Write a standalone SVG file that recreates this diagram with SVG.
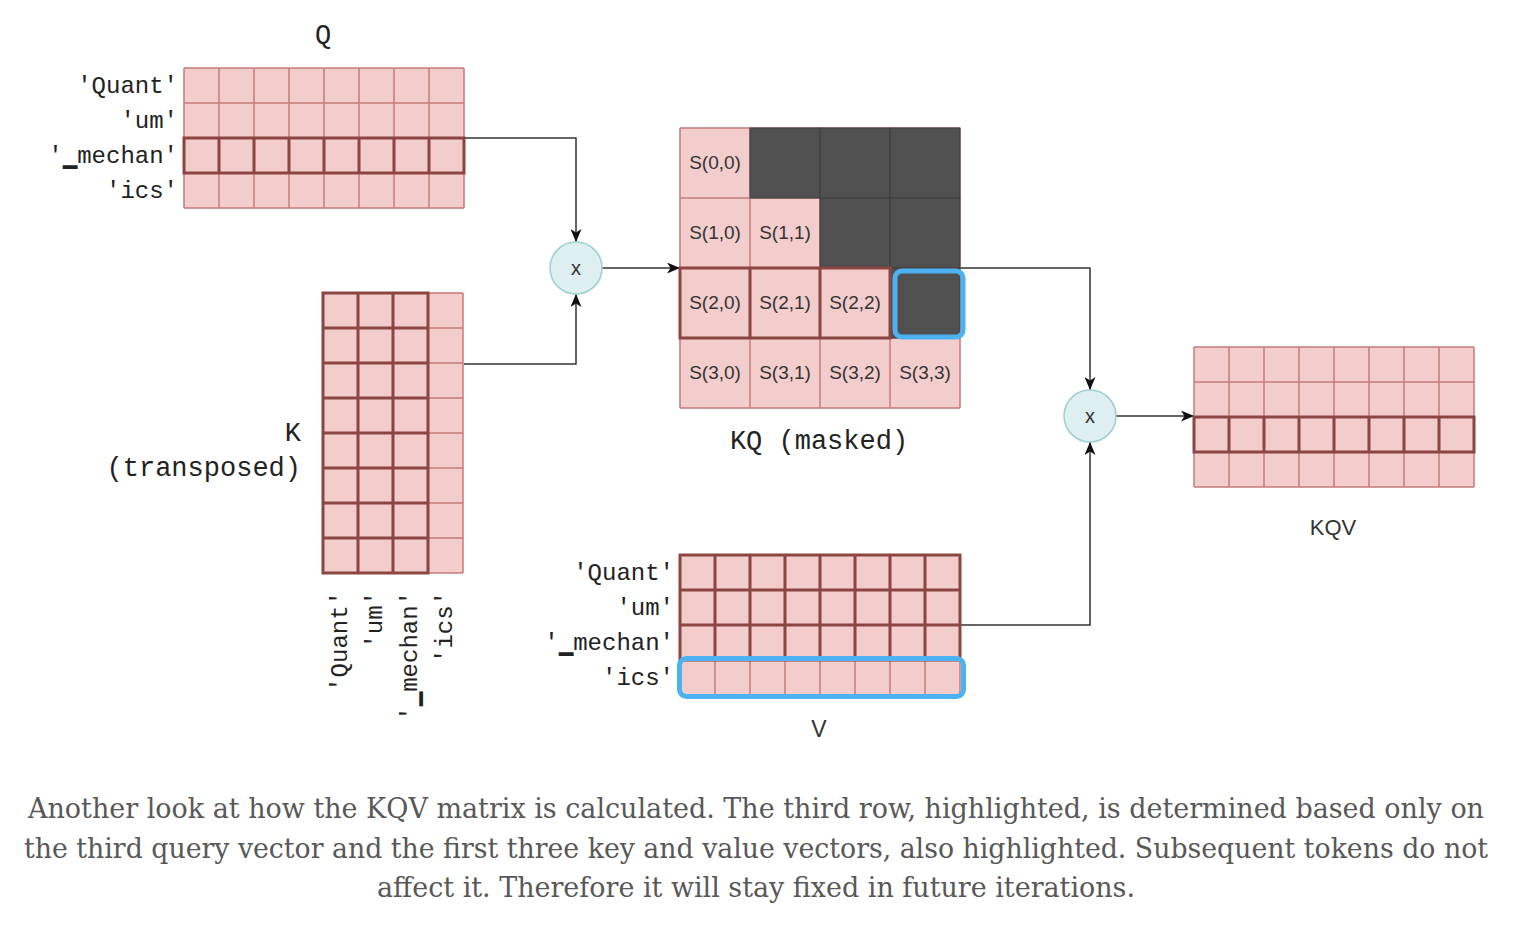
<svg xmlns="http://www.w3.org/2000/svg" xmlns:xlink="http://www.w3.org/1999/xlink" width="1538" height="932" viewBox="0 0 1538 932">
<style>
.bg{fill:#f2cdcc}
.gr{fill:none;stroke:#c47c79;stroke-width:1.5}
.hl{fill:none;stroke:#8b4543;stroke-width:3}
.dk{fill:#505050;stroke:#3e3e3e;stroke-width:1}
.blue{fill:none;stroke:#4db2f4;stroke-width:5}
.mono{font-family:"Liberation Mono","DejaVu Sans Mono",monospace;fill:#222}
.lbl{font-size:24px;text-anchor:end}
.ttl{font-size:27px}
.sans{font-family:"Liberation Sans",Arial,sans-serif;fill:#333}
.cell{font-size:19px;text-anchor:middle}
.conn{fill:none;stroke:#333;stroke-width:1.5}
.circ{fill:#ddeff0;stroke:#9ccfcf;stroke-width:1.5}
.cap{font-family:"DejaVu Serif Condensed","DejaVu Serif","Liberation Serif",serif;font-size:28px;fill:#585858}
.mid{text-anchor:middle}
.end{text-anchor:end}
</style>
<defs>
<marker id="arr" viewBox="0 0 13 11" refX="13" refY="5.5" markerWidth="13" markerHeight="11" markerUnits="userSpaceOnUse" orient="auto">
<path d="M0 0L13 5.5L0 11L3.5 5.5Z" fill="#111"/>
</marker>
<path id="g8x4" d="M0 0V140M35 0V140M70 0V140M105 0V140M140 0V140M175 0V140M210 0V140M245 0V140M280 0V140M0 0H280M0 35H280M0 70H280M0 105H280M0 140H280"/>
<path id="g4x8" d="M0 0V280M35 0V280M70 0V280M105 0V280M140 0V280M0 0H140M0 35H140M0 70H140M0 105H140M0 140H140M0 175H140M0 210H140M0 245H140M0 280H140"/>
<path id="hrow" d="M0 0H280V35H0ZM35 0V35M70 0V35M105 0V35M140 0V35M175 0V35M210 0V35M245 0V35"/>
</defs>

<g id="connectors">
<path class="conn" d="M464 138H576V242" marker-end="url(#arr)"/>
<path class="conn" d="M464 364H576V294" marker-end="url(#arr)"/>
<path class="conn" d="M602 268H680" marker-end="url(#arr)"/>
<path class="conn" d="M960 268H1090V390" marker-end="url(#arr)"/>
<path class="conn" d="M960 625H1090V442" marker-end="url(#arr)"/>
<path class="conn" d="M1116 416H1194" marker-end="url(#arr)"/>
</g>

<g id="Q">
<g transform="translate(184,68)">
<rect class="bg" width="280" height="140"/>
<use xlink:href="#g8x4" href="#g8x4" class="gr"/>
<use xlink:href="#hrow" href="#hrow" class="hl" y="70"/>
</g>
<text class="mono ttl mid" x="323" y="43">Q</text>
<text class="mono lbl" x="178" y="93">'Quant'</text>
<text class="mono lbl" x="178" y="128">'um'</text>
<text class="mono lbl" x="178" y="163">'▁mechan'</text>
<text class="mono lbl" x="178" y="198">'ics'</text>
</g>

<g id="K">
<g transform="translate(323,293)">
<rect class="bg" width="140" height="280"/>
<use xlink:href="#g4x8" href="#g4x8" class="gr"/>
<path class="hl" d="M0 0H105V280H0ZM35 0V280M70 0V280M0 35H105M0 70H105M0 105H105M0 140H105M0 175H105M0 210H105M0 245H105"/>
</g>
<text class="mono ttl end" x="301" y="441">K</text>
<text class="mono ttl end" x="301" y="476">(transposed)</text>
<text class="mono lbl" transform="translate(347,591) rotate(-90)">'Quant'</text>
<text class="mono lbl" transform="translate(382,591) rotate(-90)">'um'</text>
<text class="mono lbl" transform="translate(417,591) rotate(-90)">'▁mechan'</text>
<text class="mono lbl" transform="translate(452,591) rotate(-90)">'ics'</text>
</g>

<g id="mul1">
<circle class="circ" cx="576" cy="268" r="26"/>
<text class="sans mid" x="576" y="275" font-size="20">x</text>
</g>

<g id="KQ">
<g transform="translate(680,128)">
<rect class="bg" width="280" height="280"/>
<path class="gr" d="M0 0V280M70 0V280M140 0V280M210 0V280M280 0V280M0 0H280M0 70H280M0 140H280M0 210H280M0 280H280"/>
<rect class="dk" x="70" y="0" width="70" height="70"/>
<rect class="dk" x="140" y="0" width="70" height="70"/>
<rect class="dk" x="210" y="0" width="70" height="70"/>
<rect class="dk" x="140" y="70" width="70" height="70"/>
<rect class="dk" x="210" y="70" width="70" height="70"/>
<rect class="dk" x="210" y="140" width="70" height="70"/>
<path class="hl" d="M0 140H210V210H0ZM70 140V210M140 140V210"/>
</g>
<rect class="blue" x="895" y="271" width="68" height="66" rx="7"/>
<text class="sans cell" x="715" y="169">S(0,0)</text>
<text class="sans cell" x="715" y="239">S(1,0)</text>
<text class="sans cell" x="785" y="239">S(1,1)</text>
<text class="sans cell" x="715" y="309">S(2,0)</text>
<text class="sans cell" x="785" y="309">S(2,1)</text>
<text class="sans cell" x="855" y="309">S(2,2)</text>
<text class="sans cell" x="715" y="379">S(3,0)</text>
<text class="sans cell" x="785" y="379">S(3,1)</text>
<text class="sans cell" x="855" y="379">S(3,2)</text>
<text class="sans cell" x="925" y="379">S(3,3)</text>
<text class="mono ttl mid" x="819" y="449">KQ (masked)</text>
</g>

<g id="V">
<g transform="translate(680,555)">
<rect class="bg" width="280" height="140"/>
<use xlink:href="#g8x4" href="#g8x4" class="gr"/>
<path class="hl" d="M0 0H280V105H0ZM35 0V105M70 0V105M105 0V105M140 0V105M175 0V105M210 0V105M245 0V105M0 35H280M0 70H280"/>
</g>
<rect class="blue" x="679.5" y="658.5" width="284" height="38" rx="7"/>
<text class="mono lbl" x="674" y="580">'Quant'</text>
<text class="mono lbl" x="674" y="615">'um'</text>
<text class="mono lbl" x="674" y="650">'▁mechan'</text>
<text class="mono lbl" x="674" y="685">'ics'</text>
<text class="sans mid" x="819" y="737" font-size="23">V</text>
</g>

<g id="mul2">
<circle class="circ" cx="1090" cy="416" r="26"/>
<text class="sans mid" x="1090" y="423" font-size="20">x</text>
</g>

<g id="KQV">
<g transform="translate(1194,347)">
<rect class="bg" width="280" height="140"/>
<use xlink:href="#g8x4" href="#g8x4" class="gr"/>
<use xlink:href="#hrow" href="#hrow" class="hl" y="70"/>
</g>
<text class="sans mid" x="1333" y="535" font-size="22">KQV</text>
</g>

<g id="caption">
<text class="cap" x="28" y="818" textLength="1456" lengthAdjust="spacingAndGlyphs">Another look at how the KQV matrix is calculated. The third row, highlighted, is determined based only on</text>
<text class="cap" x="24" y="858" textLength="1464" lengthAdjust="spacingAndGlyphs">the third query vector and the first three key and value vectors, also highlighted. Subsequent tokens do not</text>
<text class="cap" x="377" y="897" textLength="758" lengthAdjust="spacingAndGlyphs">affect it. Therefore it will stay fixed in future iterations.</text>
</g>
</svg>
